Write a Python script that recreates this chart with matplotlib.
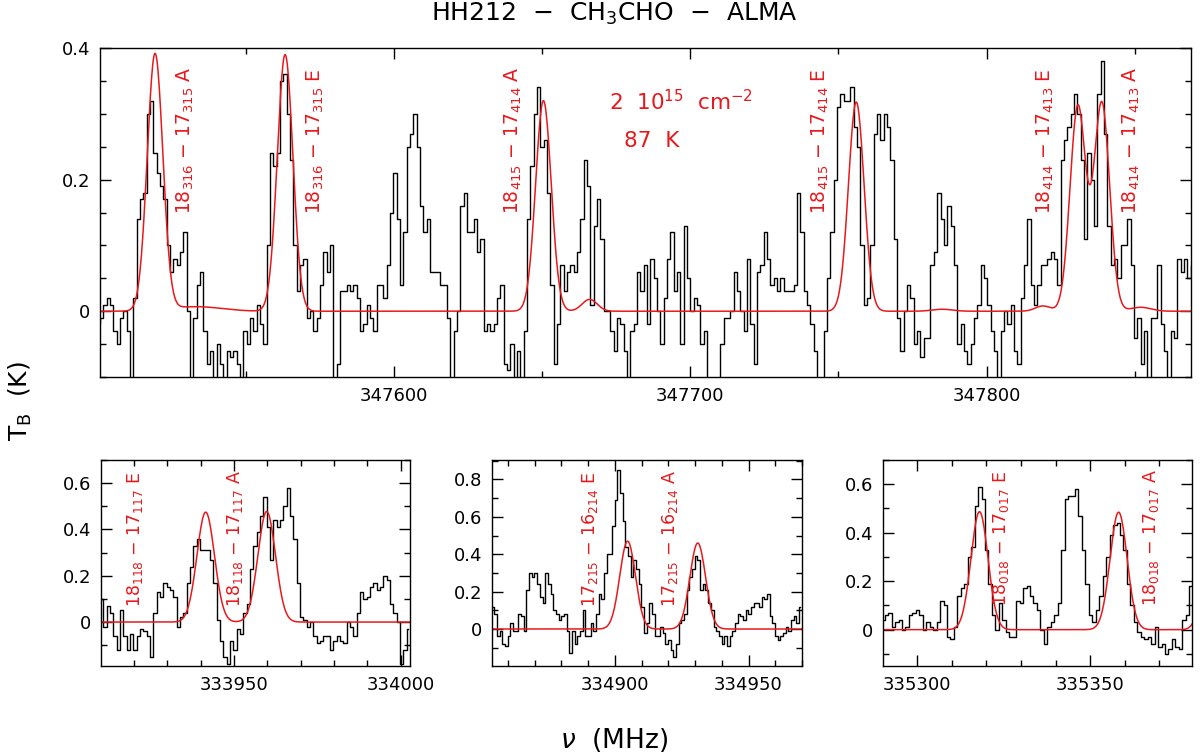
import numpy as np
import matplotlib
matplotlib.use("Agg")
import matplotlib.pyplot as plt
from matplotlib.ticker import MultipleLocator, FuncFormatter

plt.rcParams['font.family'] = ['DejaVu Sans']
plt.rcParams['mathtext.fontset'] = 'dejavusans'

RED = '#e8191c'

# ---- spettro osservato, pannello alto (347.5 GHz), canali da 1.126 MHz
top_f0 = 347499.0
top_df = 1.126
top_tb = [
    -0.02, -0.02, -0.01, 0.01, 0.02, 0.01, -0.03, -0.05, -0.01, 0.0,
    -0.03, -0.11, 0.02, 0.14, 0.17, 0.18, 0.30, 0.32, 0.24, 0.21,
    0.19, 0.17, 0.10, 0.06, 0.08, 0.07, 0.09, 0.12, 0.0, -0.11,
    -0.01, 0.04, 0.06, -0.03, -0.08, -0.06, -0.11, -0.05, -0.08, -0.11,
    -0.06, -0.07, -0.06, -0.08, -0.11, -0.03, -0.05, -0.01, -0.03, 0.01,
    -0.02, -0.05, 0.10, 0.24, 0.22, 0.24, 0.35, 0.36, 0.30, 0.23,
    0.10, 0.03, 0.07, 0.08, -0.01, 0.0, -0.03, -0.01, 0.04, 0.09,
    0.06, 0.10, -0.11, -0.08, 0.03, 0.03, 0.04, 0.03, 0.04, 0.02,
    -0.03,
    # 347590 -
    -0.02, 0.01, -0.01, -0.03, 0.04, 0.04, 0.02, 0.07, 0.15, 0.21,
    0.14, 0.04, 0.12, 0.25, 0.27, 0.30, 0.25, 0.16, 0.12, 0.14,
    0.06, 0.06, 0.06, 0.04, 0.04, -0.01, -0.11, -0.03, 0.0, 0.16,
    0.18, 0.12, 0.12, 0.14, 0.09, 0.11, -0.03, -0.02, -0.03, -0.02,
    0.02, 0.04, -0.08, -0.09, -0.05, -0.11, -0.06, -0.11, -0.03, 0.14,
    0.22, 0.30, 0.34, 0.25, 0.26, 0.18, 0.04, -0.08, -0.02, 0.07,
    0.03, 0.06, 0.07, 0.06, 0.09, 0.14, 0.23, 0.19, 0.01, 0.13,
    0.17, 0.11, 0.0, 0.0, -0.03, -0.06, -0.01, -0.02, -0.06, -0.11,
    -0.03,
    # 347681 -
    -0.02, 0.06, 0.03, 0.07, -0.02, 0.08, 0.05, 0.0, -0.05, 0.02,
    0.08, 0.12, 0.03, 0.06, -0.05, 0.13, 0.05, 0.0, 0.02, 0.01,
    -0.05, -0.03, -0.11, -0.11, -0.11, -0.11, -0.05, -0.01, -0.01, 0.0,
    0.06, 0.03, 0.0, -0.03, 0.08, -0.02, -0.08, 0.06, 0.07, 0.12,
    0.08, 0.04, 0.05, 0.03, 0.05, 0.03, 0.03, 0.03, 0.04, 0.18,
    0.12, 0.03, 0.01, -0.02, -0.06, -0.11, -0.11, -0.03, 0.05, 0.12,
    0.20, 0.31, 0.33, 0.32, 0.32, 0.34, 0.28, 0.25, 0.10, 0.01,
    0.02, 0.10, 0.27, 0.30, 0.26, 0.30, 0.28, 0.23, 0.11, -0.01,
    -0.06, 0.0, 0.04,
    # 347775 -
    0.02, -0.05, -0.03, -0.07, -0.04, -0.04, 0.07, 0.09, 0.18, 0.14,
    0.10, 0.16, 0.13, 0.07, -0.05, -0.02, -0.06, -0.08, -0.05, -0.01,
    0.01, 0.07, 0.05, 0.01, -0.03, -0.06, -0.11, -0.03, 0.0, -0.02,
    0.01, -0.06, -0.08, 0.02, 0.07, 0.14, 0.04, 0.01, 0.04, 0.07,
    0.07, 0.08, 0.09, 0.08, 0.04, 0.23, 0.26, 0.28, 0.30, 0.33,
    0.30, 0.23, 0.11, 0.24, 0.20, 0.13, 0.33, 0.38, 0.27, 0.13,
    0.07, 0.08, 0.05, 0.10, 0.10, 0.14, 0.07, -0.04, -0.01, -0.08,
    -0.03, -0.11, -0.01, -0.01, 0.07, -0.02, -0.06, -0.11, -0.03, -0.04,
    0.08, 0.06, 0.08, 0.05, 0.07,
]

# ---- pannelli bassi, canali da 1 MHz
p1_f0 = 333910.3
p1_tb = [
    0.10, -0.02, 0.07, 0.04, -0.06, -0.12, 0.05, -0.06, -0.12, -0.05,
    -0.12, -0.06, -0.03, -0.04, -0.06, -0.15, 0.04, 0.13, 0.11, 0.17,
    0.15, 0.14, 0.11, -0.02, 0.02, 0.04, 0.17, 0.24, 0.33, 0.36,
    0.31, 0.31, 0.31, 0.27, 0.17, 0.01, -0.08, -0.15, -0.18, -0.08,
    -0.12, -0.03, -0.05, 0.04, 0.08, 0.23, 0.33, 0.39, 0.46, 0.54,
    0.41, 0.27, 0.44, 0.41, 0.44, 0.50, 0.58, 0.46, 0.36, 0.17,
    0.02, 0.01, -0.02, 0.0, -0.06, -0.09, -0.08, -0.06, -0.06, -0.12,
    -0.08, -0.06, -0.08, -0.09, 0.0, -0.02, -0.06, 0.04, 0.13, 0.10,
    0.11, 0.15, 0.17, 0.14, 0.15, 0.20, 0.18, 0.08, 0.04, 0.0,
    -0.18, -0.12, -0.03,
]

p2_f0 = 334854.4
p2_tb = [
    0.12, 0.08, -0.04, -0.01, -0.08, -0.09, -0.04, 0.03, -0.01, -0.01,
    0.08, 0.07, -0.01, 0.21, 0.30, 0.28, 0.30, 0.24, 0.17, 0.14,
    0.30, 0.24, 0.19, 0.10, 0.08, 0.05, 0.07, 0.08, -0.01, -0.13,
    -0.01, -0.08, -0.04, -0.01, 0.10, -0.04, -0.04, 0.03, -0.01, 0.08,
    0.19, 0.16, 0.30, 0.40, 0.40, 0.55, 0.69, 0.85, 0.73, 0.58,
    0.44, 0.39, 0.28, 0.37, 0.32, 0.24, 0.12, -0.02, 0.03, 0.14,
    0.08, -0.04, -0.04, 0.01, -0.02, -0.08, -0.06, -0.11, -0.15, -0.08,
    0.03, 0.05, 0.08, 0.21, 0.28, 0.32, 0.39, 0.37, 0.21, 0.24,
    0.21, 0.14, 0.10, 0.01, -0.01, -0.04, -0.08, -0.04, -0.09, -0.04,
    -0.01, 0.03, 0.08, 0.07, 0.05, 0.10, 0.08, 0.12, 0.14, 0.14,
    0.12, 0.17, 0.16, 0.19, 0.07, 0.03, -0.04, -0.06, -0.04, -0.02,
    0.01, -0.01, 0.05, 0.07, 0.03, 0.12,
]

p3_f0 = 335290.1
p3_tb = [
    0.04, 0.06, 0.07, 0.01, 0.03, 0.04, 0.0, 0.01, 0.06, 0.07,
    0.08, 0.06, 0.0, 0.03, 0.01, 0.0, 0.03, 0.12, 0.10, -0.03,
    -0.04, 0.01, 0.14, 0.17, 0.19, 0.30, 0.34, 0.51, 0.59, 0.54,
    0.33, 0.19, 0.06, 0.0, 0.11, 0.04, -0.01, -0.03, -0.03, 0.12,
    0.11, 0.17, 0.18, 0.14, 0.11, 0.08, 0.0, -0.06, 0.01, 0.03,
    0.06, 0.11, 0.33, 0.54, 0.55, 0.55, 0.58, 0.47, 0.33, 0.19,
    0.06, 0.03, 0.08, 0.14, 0.22, 0.30, 0.39, 0.43, 0.44, 0.39,
    0.33, 0.19, 0.10, 0.03, -0.01, -0.03, -0.04, -0.03, -0.06, 0.01,
    -0.07, -0.06, -0.10, -0.08, -0.04, -0.07, -0.08, 0.04, 0.06, 0.18,
]

# ---- modello LTE (righe CH3CHO): centro, picco, FWHM
top_lines_nu = [347519.3, 347563.2, 347650.4, 347756.0, 347830.8, 347838.9,
                347533.0, 347666.0, 347785.0, 347819.0, 347852.0]
top_lines_tb = [0.39, 0.39, 0.32, 0.318, 0.311, 0.316,
                0.007, 0.018, 0.003, 0.008, 0.006]
top_lines_fw = [6.2, 6.2, 6.2, 6.2, 6.2, 6.2,
                20.0, 6.0, 8.0, 6.0, 8.0]

p1_lines_nu = [333941.5, 333959.8]
p1_lines_tb = [0.475, 0.478]
p1_lines_fw = [6.2, 6.2]

p2_lines_nu = [334904.75, 334931.0]
p2_lines_tb = [0.47, 0.46]
p2_lines_fw = [6.9, 6.9]

p3_lines_nu = [335318.0, 335358.2, 335385.5]
p3_lines_tb = [0.487, 0.485, 0.48]
p3_lines_fw = [5.8, 5.8, 5.8]

# etichette delle transizioni
top_lab = ['18$_{316}$ − 17$_{315}$ A', '18$_{316}$ − 17$_{315}$ E',
           '18$_{415}$ − 17$_{414}$ A', '18$_{415}$ − 17$_{414}$ E',
           '18$_{414}$ − 17$_{413}$ E', '18$_{414}$ − 17$_{413}$ A']
top_lab_nu = [347529.4, 347573.3, 347640.2, 347744.0, 347820.0, 347848.7]
p1_lab = ['18$_{118}$ − 17$_{117}$ E', '18$_{118}$ − 17$_{117}$ A']
p1_lab_nu = [333920.3, 333950.3]
p2_lab = ['17$_{215}$ − 16$_{214}$ E', '17$_{215}$ − 16$_{214}$ A']
p2_lab_nu = [334890.6, 334920.6]
p3_lab = ['18$_{018}$ − 17$_{017}$ E', '18$_{018}$ − 17$_{017}$ A']
p3_lab_nu = [335324.3, 335367.6]


def model(nu, centers, peaks, fwhm):
    out = np.zeros_like(nu)
    for c, p, w in zip(centers, peaks, fwhm):
        s = w / 2.3548
        out += p * np.exp(-0.5 * ((nu - c) / s) ** 2)
    return out


def style(ax, xmaj, xmin, ymaj, ymin):
    ax.xaxis.set_major_locator(MultipleLocator(xmaj))
    ax.xaxis.set_minor_locator(MultipleLocator(xmin))
    ax.yaxis.set_major_locator(MultipleLocator(ymaj))
    ax.yaxis.set_minor_locator(MultipleLocator(ymin))
    ax.xaxis.set_major_formatter(FuncFormatter(lambda v, p: f'{v:.0f}'))
    ax.yaxis.set_major_formatter(
        FuncFormatter(lambda v, p: '0' if abs(v) < 1e-9 else f'{v:g}'))
    ax.tick_params(which='both', direction='in', top=True, right=True,
                   labelsize=13, width=1.0)
    ax.tick_params(which='major', length=8, pad=7)
    ax.tick_params(which='minor', length=4)
    for s in ax.spines.values():
        s.set_linewidth(1.0)


def draw(ax, f0, df, tb, lnu, ltb, lfw, xlim, ylim):
    nu = f0 + df * np.arange(len(tb))
    ax.step(nu, tb, where='mid', color='k', lw=1.0)
    fine = np.arange(xlim[0] - 2, xlim[1] + 2, 0.2)
    ax.plot(fine, model(fine, lnu, ltb, lfw), color=RED, lw=1.1)
    ax.set_xlim(*xlim)
    ax.set_ylim(*ylim)


fig = plt.figure(figsize=(12, 7.56), dpi=100)

ax0 = fig.add_axes([0.0833, 0.5013, 0.9092, 0.4352])
draw(ax0, top_f0, top_df, top_tb, top_lines_nu, top_lines_tb, top_lines_fw,
     (347500.7, 347869.0), (-0.1, 0.4))
style(ax0, 100, 50, 0.2, 0.05)
for t, x in zip(top_lab, top_lab_nu):
    ax0.text(x, 0.147, t, rotation=90, ha='center', va='bottom',
             color=RED, fontsize=13.5)
ax0.text(347672.6, 0.318, '2  10$^{15}$  cm$^{-2}$', color=RED, fontsize=15.5,
         ha='left', va='center')
ax0.text(347677.5, 0.259, '87  K', color=RED, fontsize=15.5,
         ha='left', va='center')

ax1 = fig.add_axes([0.0842, 0.119, 0.2575, 0.2725])
draw(ax1, p1_f0, 1.0, p1_tb, p1_lines_nu, p1_lines_tb, p1_lines_fw,
     (333910.1, 334002.8), (-0.19, 0.70))
style(ax1, 50, 10, 0.2, 0.1)
for t, x in zip(p1_lab, p1_lab_nu):
    ax1.text(x, 0.066, t, rotation=90, ha='center', va='bottom',
             color=RED, fontsize=12.5)

ax2 = fig.add_axes([0.41, 0.119, 0.2583, 0.2725])
draw(ax2, p2_f0, 1.0, p2_tb, p2_lines_nu, p2_lines_tb, p2_lines_fw,
     (334854.0, 334970.0), (-0.198, 0.904))
style(ax2, 50, 10, 0.2, 0.1)
for t, x in zip(p2_lab, p2_lab_nu):
    ax2.text(x, 0.12, t, rotation=90, ha='center', va='bottom',
             color=RED, fontsize=12.5)

ax3 = fig.add_axes([0.7358, 0.119, 0.2575, 0.2725])
draw(ax3, p3_f0, 1.0, p3_tb, p3_lines_nu, p3_lines_tb, p3_lines_fw,
     (335290.1, 335379.4), (-0.15, 0.70))
style(ax3, 50, 10, 0.2, 0.1)
for t, x in zip(p3_lab, p3_lab_nu):
    ax3.text(x, 0.097, t, rotation=90, ha='center', va='bottom',
             color=RED, fontsize=12.5)

fig.text(0.512, 0.982, 'HH212  −  CH$_3$CHO  −  ALMA', ha='center',
         va='center', fontsize=18)
fig.text(0.017, 0.47, 'T$_\\mathrm{B}$  (K)', rotation=90, ha='center',
         va='center', fontsize=18)
fig.text(0.512, 0.021, r'$\nu$  (MHz)', ha='center', va='center', fontsize=19)

fig.savefig('out.png', dpi=100)
